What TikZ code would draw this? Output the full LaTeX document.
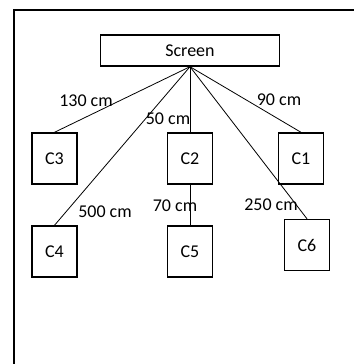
\documentclass[tikz,border=0pt]{standalone}
\usepackage{fontspec}
\setmainfont{Carlito}
\tikzset{
    cam/.style={draw, line width=1.4pt, minimum width=45pt, minimum height=51pt, inner sep=0pt},
    screenbox/.style={draw, line width=1.4pt, minimum width=179pt, minimum height=31pt, inner sep=0pt},
    dist/.style={inner sep=0pt},
    wire/.style={line width=0.8pt}
}
\begin{document}
\begin{tikzpicture}[x=1pt, y=-1pt, font=\fontsize{18}{21}\selectfont]
            \useasboundingbox (0,0) rectangle (354,364);
            \draw [line width=2pt] (14,364)--(14,10)--(354,10);
            \node [screenbox] (screen) at(190,50.5) {Screen};
            \node [cam] (c3) at(54.5,158.5) {C3};
            \node [cam] (c2) at(190,158.5) {C2};
            \node [cam] (c1) at(301,158.5) {C1};
            \node [cam] (c4) at(54.5,251.5) {C4};
            \node [cam] (c5) at(190,251.5) {C5};
            \node [cam] (c6) at(307,245) {C6};
            \draw [wire] (screen.south)--(c3.north);
            \draw [wire] (screen.south)--(c4.north);
            \draw [wire] (screen.south)--(c2.north);
            \draw [wire] (screen.south)--(c1.north);
            \draw [wire] (screen.south)--(c6.north);
            \draw [wire] (c2.south)--(c5.north);
            \node [dist] (d3) at(86,101) {130 cm};
            \node [dist] (d2) at(168,119) {50 cm};
            \node [dist] (d1) at(279,100) {90 cm};
            \node [dist] (d4) at(105,212) {500 cm};
            \node [dist] (d5) at(175,206) {70 cm};
            \node [dist] (d6) at(271,205) {250 cm};
        \end{tikzpicture}
\end{document}
